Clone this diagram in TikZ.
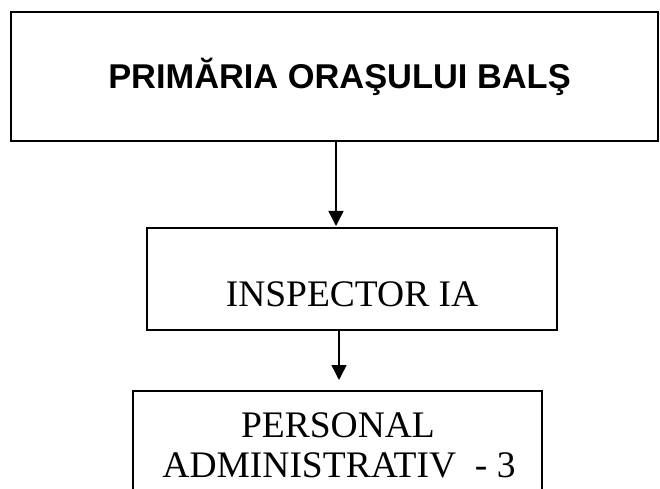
\documentclass[tikz,border=0pt]{standalone}
\usepackage{fontspec}
\setmainfont{Liberation Serif}
\newfontfamily\arialfont{Liberation Sans}
\usetikzlibrary{arrows.meta}
\begin{document}
\begin{tikzpicture}[x=1bp,y=-1bp,
  box/.style={draw,line width=1.6bp,inner sep=0pt,outer sep=0pt,rectangle},
  arr/.style={line width=1.5bp,-{Triangle[width=15bp,length=15bp]}},
  lbl/.style={inner sep=0pt,outer sep=0pt,anchor=base}]
\clip (0,0) rectangle (660,489);
% boxes
\node[box,minimum width=647bp,minimum height=129bp] (top) at (334.5,76.5) {};
\node[box,minimum width=410bp,minimum height=102bp] (mid) at (352,279) {};
\node[box,minimum width=409bp,minimum height=140bp] (bot) at (337.5,461) {};
% texts
\node[lbl,font=\arialfont\bfseries\fontsize{34.4bp}{40bp}\selectfont] (t1) at (339.5,89) {PRIMĂRIA ORAŞULUI BALŞ};
\node[lbl,font=\fontsize{37.5bp}{44bp}\selectfont] (t2) at (352,306.5) {INSPECTOR IA};
\node[lbl,font=\fontsize{37.5bp}{44bp}\selectfont] (t3) at (338,437) {PERSONAL};
\node[lbl,font=\fontsize{37.5bp}{44bp}\selectfont] (t4) at (339,477) {ADMINISTRATIV\ \ - 3};
% connectors
\coordinate (e1) at (336,226);
\coordinate (e2) at (339,380);
\draw[arr] (top.south -| e1) -- (e1);
\draw[arr] (mid.south -| e2) -- (e2);
\end{tikzpicture}
\end{document}
